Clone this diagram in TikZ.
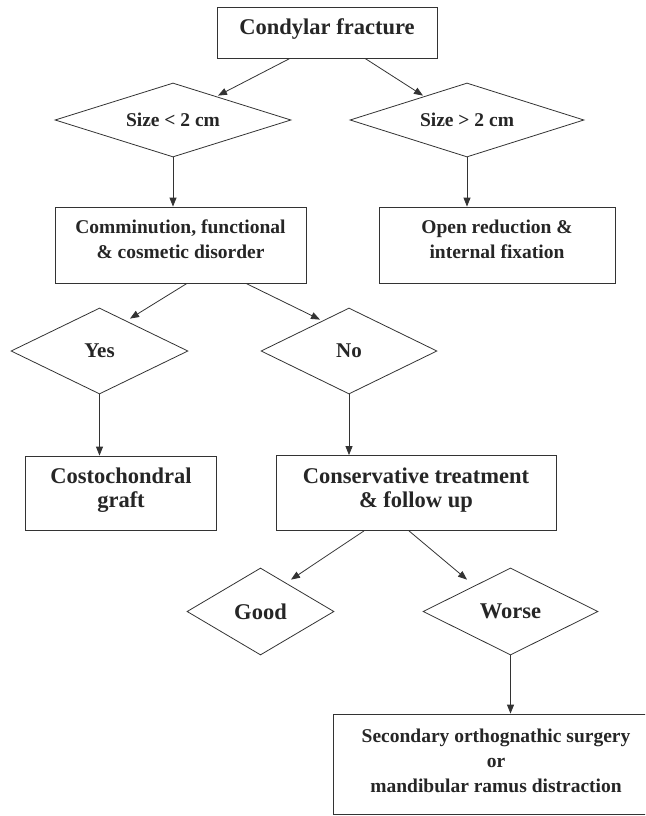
\documentclass[tikz,border=0pt]{standalone}
\usepackage{fontspec}
\setmainfont{Liberation Serif}
\usepackage{tikz}
\usetikzlibrary{shapes.geometric,arrows.meta}

\tikzset{
  box/.style={draw=black!80,line width=0.8pt,rectangle,inner sep=0pt,text=black!85,align=center,
    font=\bfseries\fontsize{19.5}{25}\selectfont,text depth=11pt},
  bigtext/.style={font=\bfseries\fontsize{22.5}{24.5}\selectfont},
  dia/.style={draw=black!80,line width=0.8pt,diamond,inner sep=0pt,text=black!85,aspect=2,
    font=\bfseries\fontsize{19.5}{25}\selectfont},
  arr/.style={draw=black!80,line width=0.8pt,-{Triangle[length=9pt,width=7pt]}}
}

\begin{document}
\begin{tikzpicture}[x=1pt,y=-1pt]
\fill[white] (0,0) rectangle (645,816);
\useasboundingbox (0,0) rectangle (645,816);
\clip (0,0) rectangle (645,816);
%Boxes and diamonds
\node (fract) at (327,32.5) [box,bigtext,minimum width=220pt,minimum height=51pt] {Condylar fracture};
\node (szL) at (173,120) [dia,aspect=3.2,minimum width=236pt,minimum height=74pt] {Size < 2 cm};
\node (szR) at (467,120) [dia,aspect=3.2,minimum width=234pt,minimum height=74pt] {Size > 2 cm};
\node (comm) at (180.5,245) [box,minimum width=251pt,minimum height=76pt] {Comminution, functional\\ \& cosmetic disorder};
\node (open) at (497,245) [box,minimum width=236pt,minimum height=76pt] {Open reduction \&\\ internal fixation};
\node (yes) at (99.5,351) [dia,font=\bfseries\fontsize{21}{24}\selectfont,minimum width=177pt,minimum height=86pt] {Yes};
\node (no) at (349,351) [dia,font=\bfseries\fontsize{21}{24}\selectfont,minimum width=176pt,minimum height=86pt] {No};
\node (costo) at (121,493) [box,bigtext,minimum width=191.5pt,minimum height=74pt] {Costochondral\\ graft};
\node (cons) at (416,493) [box,bigtext,minimum width=280pt,minimum height=75pt] {Conservative treatment\\ \& follow up};
\node (good) at (260.5,611.5) [dia,bigtext,minimum width=147pt,minimum height=87pt] {Good};
\node (worse) at (510.5,611.5) [dia,bigtext,minimum width=175pt,minimum height=87pt] {Worse};
\node (final) at (496,764) [box,minimum width=326pt,minimum height=100pt,text depth=6pt] {Secondary orthognathic surgery\\ or\\ mandibular ramus distraction};
%Arrows
\draw[arr] ([xshift=-37pt]fract.south) -- ([xshift=45pt,yshift=-13pt]szL.north);
\draw[arr] ([xshift=38pt]fract.south) -- ([xshift=-44pt,yshift=-13pt]szR.north);
\draw[arr] (szL.south) -- (szL.south |- comm.north);
\draw[arr] (szR.south) -- (szR.south |- open.north);
\draw[arr] ([xshift=6.5pt]comm.south) -- ([xshift=30.5pt,yshift=-11pt]yes.north);
\draw[arr] ([xshift=65.5pt]comm.south) -- ([xshift=-29pt,yshift=-12pt]no.north);
\draw[arr] (yes.south) -- (yes.south |- costo.north);
\draw[arr] (no.south) -- (no.south |- cons.north);
\draw[arr] ([xshift=-52pt]cons.south) -- ([xshift=30.5pt,yshift=-12pt]good.north);
\draw[arr] ([xshift=-7pt]cons.south) -- ([xshift=-43.5pt,yshift=-12pt]worse.north);
\draw[arr] (worse.south) -- (worse.south |- final.north);
\end{tikzpicture}
\end{document}
